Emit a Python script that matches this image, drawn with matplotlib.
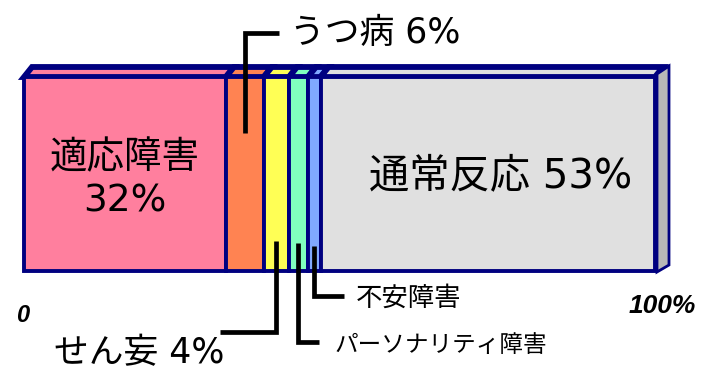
import numpy as np
import matplotlib
matplotlib.use("Agg")
import matplotlib.pyplot as plt
from matplotlib.patches import Polygon

# wide Latin digits first, kana/kanji from Noto CJK
plt.rcParams['font.family'] = ['DejaVu Sans', 'Noto Sans CJK JP']

# data (percent of cases)
categories = ["適応障害", "うつ病", "せん妄", "パーソナリティ障害", "不安障害", "通常反応"]
values = [32, 6, 4, 3, 2, 53]
colors = ["#FF7F9E", "#FF8352", "#FFFF55", "#80FFBE", "#80A8FF", "#E0E0E0"]
axis_labels = ["0", "100%"]

NAVY = "#000080"
W, H = 715, 369
X0_PX, X100_PX = 24, 655          # where 0% and 100% sit on the picture
BAR_TOP, BAR_BOT = 77, 271
PPU = (X100_PX - X0_PX) / 100.0   # pixels per percent


def px(x):
    """pixel column -> percent units"""
    return (x - X0_PX) / PPU


fig = plt.figure(figsize=(W / 100, H / 100), dpi=100)
ax = fig.add_axes([0, 0, 1, 1])
ax.set_xlim(px(0), px(W))
ax.set_ylim(H, 0)
ax.axis("off")

lefts = np.concatenate([[0], np.cumsum(values)[:-1]])
centers = lefts + np.array(values) / 2.0

# 3D top faces (thin, mostly outline)
dx, dy = px(X0_PX + 8), 10
for l, v, c in zip(lefts, values, colors):
    poly = Polygon([(l, BAR_TOP), (l + v, BAR_TOP), (l + v + dx, BAR_TOP - dy), (l + dx, BAR_TOP - dy)],
                   closed=True, facecolor=c, edgecolor=NAVY, lw=4.2, joinstyle="miter", zorder=1)
    ax.add_patch(poly)

# right side face
side = Polygon([(100 + px(X0_PX + 2), BAR_BOT + 1), (100 + px(X0_PX + 2), BAR_TOP - 3),
                (100 + px(X0_PX + 14), BAR_TOP - 11), (100 + px(X0_PX + 14), BAR_BOT - 6)],
               closed=True, facecolor="#B8B8B8", edgecolor=NAVY, lw=2, zorder=1)
ax.add_patch(side)

# front faces
ax.barh((BAR_TOP + BAR_BOT) / 2, values, left=lefts, height=BAR_BOT - BAR_TOP,
        color=colors, edgecolor=NAVY, linewidth=2.8, zorder=2)

# labels inside the bar
ax.text(centers[0], 180, f"{categories[0]}\n{values[0]}%", ha="center", va="center",
        fontsize=27, linespacing=1.25, zorder=5)
ax.text(px(501), 176, f"{categories[5]} {values[5]}%", ha="center", va="center",
        fontsize=29, zorder=5)

# leader lines + callout labels
lk = dict(color="black", lw=3.4, solid_capstyle="butt", solid_joinstyle="miter", zorder=6)
# うつ病 (up)
ax.plot([centers[1], centers[1], px(279)], [133, 33, 33], **lk)
ax.text(px(290), 33, f"{categories[1]} {values[1]}%", ha="left", va="center", fontsize=25)
# せん妄 (down, left)
ax.plot([centers[2], centers[2], px(220)], [241, 332, 332], **lk)
ax.text(px(54), 353, f"{categories[2]} {values[2]}%", ha="left", va="center", fontsize=25)
# パーソナリティ障害 (down, right)
ax.plot([centers[3], centers[3], px(319)], [243, 342, 342], **lk)
ax.text(px(334), 345, categories[3], ha="left", va="center", fontsize=17)
# 不安障害 (down, right)
ax.plot([centers[4], centers[4], px(344)], [246, 296, 296], **lk)
ax.text(px(356), 299, categories[4], ha="left", va="center", fontsize=19)

# axis end labels
ax.text(px(23), 316, axis_labels[0], ha="center", va="center", fontsize=17,
        family="Liberation Sans", style="italic", weight="bold")
ax.text(px(662), 306, axis_labels[1], ha="center", va="center", fontsize=19,
        family="Liberation Sans", style="italic", weight="bold")

fig.savefig("out.png", dpi=100)
